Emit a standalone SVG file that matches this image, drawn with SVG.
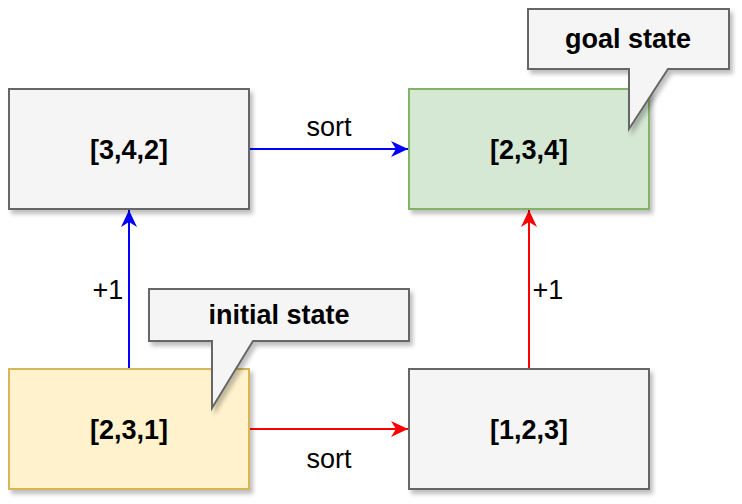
<svg xmlns="http://www.w3.org/2000/svg" width="742" height="504" viewBox="0 0 742 504">
<style>
.box{stroke-width:2;filter:url(#sh)}
.gray{fill:#f5f5f5;stroke:#666666}
.green{fill:#d5e8d4;stroke:#82b366}
.yellow{fill:#fff2cc;stroke:#d6b656}
.lbl{font-family:"Liberation Sans",Arial,sans-serif;font-weight:bold;font-size:27px;fill:#000;text-anchor:middle}
.elbl{font-family:"Liberation Sans",Arial,sans-serif;font-size:27px;fill:#000;text-anchor:middle}
.blue{stroke:#0000ff;stroke-width:2;fill:none}
.red{stroke:#ff0000;stroke-width:2;fill:none}
</style>
<defs>
<filter id="sh" x="-10%" y="-10%" width="130%" height="130%">
<feDropShadow dx="3" dy="4" stdDeviation="2" flood-color="#000" flood-opacity="0.25"/>
</filter>
<marker id="ab" markerUnits="userSpaceOnUse" markerWidth="20" markerHeight="20" refX="17" refY="8" orient="auto">
<path d="M17,8 L0,0 L5,8 L0,16 Z" fill="#0000ff"/>
</marker>
<marker id="ar" markerUnits="userSpaceOnUse" markerWidth="20" markerHeight="20" refX="17" refY="8" orient="auto">
<path d="M17,8 L0,0 L5,8 L0,16 Z" fill="#ff0000"/>
</marker>
</defs>
<g id="connectors">
<path class="blue" d="M249,149 L408,149" marker-end="url(#ab)"/>
<path class="blue" d="M129,369 L129,210" marker-end="url(#ab)"/>
<path class="red" d="M249,429 L408,429" marker-end="url(#ar)"/>
<path class="red" d="M529,369 L529,210" marker-end="url(#ar)"/>
<text class="elbl" x="329" y="136">sort</text>
<text class="elbl" x="329" y="468">sort</text>
<text class="elbl" x="108" y="299">+1</text>
<text class="elbl" x="548" y="299">+1</text>
</g>
<g id="n342">
<rect class="box gray" x="9" y="89" width="240" height="120"/>
<text class="lbl" x="129" y="159">[3,4,2]</text>
</g>
<g id="n234">
<rect class="box green" x="409" y="89" width="240" height="120"/>
<text class="lbl" x="529" y="159">[2,3,4]</text>
</g>
<g id="n231">
<rect class="box yellow" x="9" y="369" width="240" height="120"/>
<text class="lbl" x="129" y="439">[2,3,1]</text>
</g>
<g id="n123">
<rect class="box gray" x="409" y="369" width="240" height="120"/>
<text class="lbl" x="529" y="439">[1,2,3]</text>
</g>
<g id="goal">
<path class="box gray" d="M528,9 L729,9 L729,69 L668,69 L629,129 L629,69 L528,69 Z"/>
<text class="lbl" x="628" y="48">goal state</text>
</g>
<g id="initial">
<path class="box gray" d="M149,289 L409,289 L409,341 L253,341 L212,408 L212,341 L149,341 Z"/>
<text class="lbl" x="279" y="324">initial state</text>
</g>
</svg>
